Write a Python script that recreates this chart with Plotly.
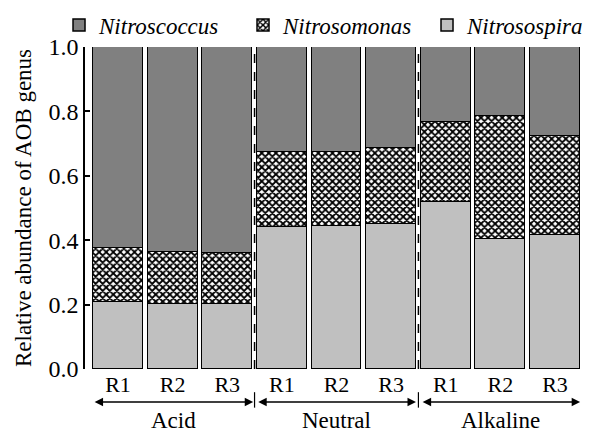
import plotly.graph_objects as go

categories = ["R1", "R2", "R3", "R1", "R2", "R3", "R1", "R2", "R3"]
groups = ["Acid", "Neutral", "Alkaline"]
nitrosospira = [0.208, 0.203, 0.202, 0.442, 0.443, 0.449, 0.518, 0.404, 0.415]
nitrosomonas = [0.169, 0.159, 0.158, 0.232, 0.230, 0.237, 0.248, 0.382, 0.308]
nitroscoccus = [0.623, 0.638, 0.640, 0.326, 0.327, 0.314, 0.234, 0.214, 0.277]
y_ticks = [0.0, 0.2, 0.4, 0.6, 0.8, 1.0]

FONT = "Liberation Serif"
xs = list(range(len(categories)))
line = dict(color="black", width=1.5)

fig = go.Figure()
fig.add_trace(go.Bar(x=xs, y=nitrosospira, name="Nitrosospira",
                     marker=dict(color="#c0c0c0", line=line), width=0.915))
fig.add_trace(go.Bar(x=xs, y=nitrosomonas, name="Nitrosomonas",
                     marker=dict(color="white", line=line,
                                 pattern=dict(shape="x", fgcolor="black", bgcolor="white",
                                              size=5, solidity=0.6, fillmode="replace")),
                     width=0.915))
fig.add_trace(go.Bar(x=xs, y=nitroscoccus, name="Nitroscoccus",
                     marker=dict(color="#808080", line=line), width=0.915))

# dashed group separators inside the plot
for sep in (2.5, 5.5):
    fig.add_shape(type="line", x0=sep, x1=sep, xref="x", y0=0, y1=1, yref="paper",
                  line=dict(color="black", width=1.5, dash="dash"))
    fig.add_shape(type="line", x0=sep, x1=sep, xref="x", y0=-0.072, y1=-0.12, yref="paper",
                  line=dict(color="black", width=1.2))

# group arrows and labels
spans = [(-0.455, 2.475), (2.54, 5.455), (5.55, 8.46)]
for g, (a, b) in zip(groups, spans):
    fig.add_annotation(x=b, y=-0.1025, xref="x", yref="paper",
                       ax=a, ay=0, axref="x", ayref="pixel",
                       showarrow=True, arrowhead=2, arrowside="end+start",
                       arrowsize=1.3, arrowwidth=1.3, arrowcolor="black", text="")
    fig.add_annotation(x=(a + b) / 2, y=-0.16, xref="x", yref="paper",
                       text=g, showarrow=False, yanchor="middle",
                       font=dict(family=FONT, size=23, color="black"))

fig.update_layout(
    width=595, height=424,
    margin=dict(l=77, r=23, t=39, b=63, autoexpand=False),
    barmode="stack",
    bargap=0,
    plot_bgcolor="white", paper_bgcolor="white",
    font=dict(family=FONT, size=22, color="black"),
    showlegend=True,
    legend=dict(orientation="h", x=-0.0525, xanchor="left", y=1.068, yanchor="middle",
                traceorder="reversed", font=dict(family=FONT, size=23, style="italic"),
                entrywidth=139, entrywidthmode="pixels", bgcolor="rgba(0,0,0,0)"),
    xaxis=dict(range=[-0.604, 8.458], tickvals=xs, ticktext=categories,
               showline=False, showgrid=False, zeroline=False, ticks="",
               tickfont=dict(family=FONT, size=22)),
    yaxis=dict(range=[0, 1], tickvals=y_ticks, tickformat=".1f",
               showline=True, linecolor="black", linewidth=1.5,
               ticks="inside", ticklen=5, tickwidth=1.5, tickcolor="black",
               showgrid=False, zeroline=False,
               tickfont=dict(family=FONT, size=24),
               title=dict(text="Relative abundance of AOB genus", standoff=10,
                          font=dict(family=FONT, size=23))),
)

fig.write_html("out.html")
